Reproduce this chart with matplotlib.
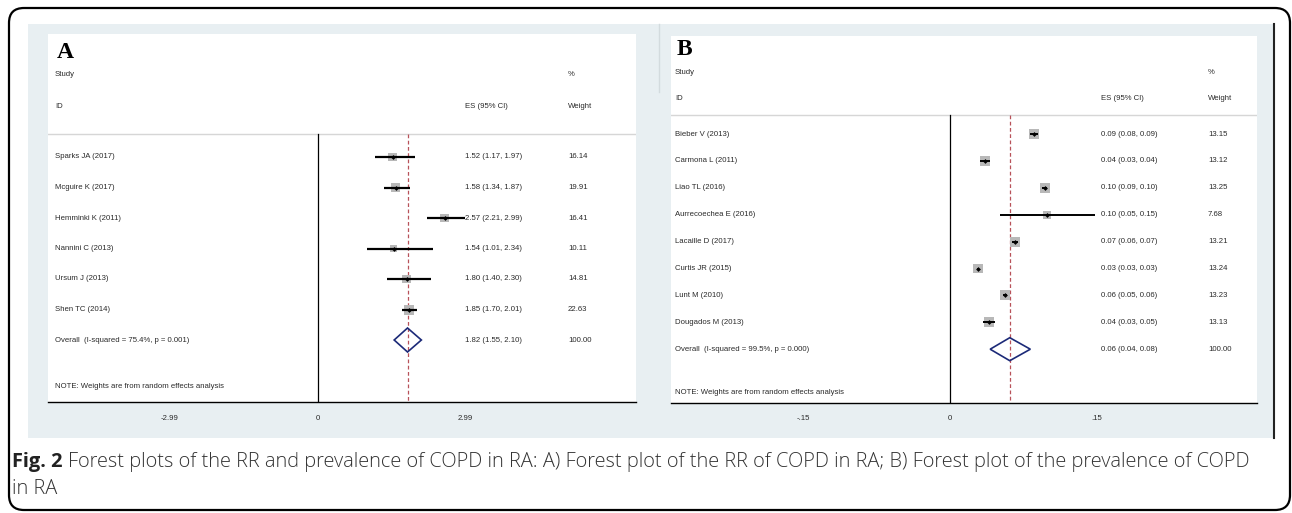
import matplotlib
matplotlib.use("Agg")
import matplotlib.pyplot as plt
from matplotlib.patches import Rectangle, FancyBboxPatch, Polygon
import numpy as np

W, H = 1292, 513

# ---- panel A: RR of COPD in RA ----
studies_a = ["Sparks JA (2017)", "Mcguire K (2017)", "Hemminki K (2011)",
             "Nannini C (2013)", "Ursum J (2013)", "Shen TC (2014)"]
es_a = [1.52, 1.58, 2.57, 1.54, 1.80, 1.85]
lo_a = [1.17, 1.34, 2.21, 1.01, 1.40, 1.70]
hi_a = [1.97, 1.87, 2.99, 2.34, 2.30, 2.01]
weight_a = [16.14, 19.91, 16.41, 10.11, 14.81, 22.63]
overall_a = [1.82, 1.55, 2.10]
overall_label_a = "Overall  (I-squared = 75.4%, p = 0.001)"
ticks_a = [-2.99, 0, 2.99]
tick_labels_a = ["-2.99", "0", "2.99"]

# ---- panel B: prevalence of COPD in RA ----
studies_b = ["Bieber V (2013)", "Carmona L (2011)", "Liao TL (2016)",
             "Aurrecoechea E (2016)", "Lacaille D (2017)", "Curtis JR (2015)",
             "Lunt M (2010)", "Dougados M (2013)"]
es_b = [0.086, 0.036, 0.097, 0.099, 0.066, 0.029, 0.056, 0.040]
lo_b = [0.082, 0.031, 0.094, 0.051, 0.063, 0.028, 0.054, 0.034]
hi_b = [0.090, 0.041, 0.099, 0.148, 0.069, 0.030, 0.058, 0.046]
weight_b = [13.15, 13.12, 13.25, 7.68, 13.21, 13.24, 13.23, 13.13]
overall_b = [0.061, 0.041, 0.082]
overall_label_b = "Overall  (I-squared = 99.5%, p = 0.000)"
ticks_b = [-0.15, 0, 0.15]
tick_labels_b = ["-.15", "0", ".15"]

caption_bold = "Fig. 2"
caption_rest = ("Forest plots of the RR and prevalence of COPD in RA: A) Forest plot of the RR of "
                "COPD in RA; B) Forest plot of the prevalence of COPD")
caption_line2 = "in RA"

GRAY_BG = "#e8eff2"
TXT = "#2a2a2a"
SANS = ["Liberation Sans", "DejaVu Sans"]
FS = 5.6

fig = plt.figure(figsize=(W / 100, H / 100), dpi=100)
bg = fig.add_axes([0, 0, 1, 1])
bg.set_xlim(0, W)
bg.set_ylim(H, 0)
bg.axis("off")

# outer rounded frame and the grey graph regions
bg.add_patch(FancyBboxPatch((9, 8), 1281, 502, boxstyle="round,pad=0,rounding_size=15",
                            fill=False, ec="black", lw=1.6))
bg.add_patch(Rectangle((28, 24), 1246, 414, color=GRAY_BG, lw=0))
bg.plot([659, 659], [24, 92], color="#d3dbde", lw=1)
bg.plot([1274, 1274], [24, 438], color="#222222", lw=1.5)


def panel(box, xlim, label, studies, es, lo, hi, wts, overall, overall_label,
          ticks, tick_labels, rows, sep_y, head_y, note_y, cols, half_h, ci_lw):
    x0, y0, x1, y1 = box
    bg.add_patch(Rectangle((x0, y0), x1 - x0, y1 - y0, color="white", lw=0))
    ax = fig.add_axes([x0 / W, 1 - y1 / H, (x1 - x0) / W, (y1 - y0) / H])
    ax.set_facecolor("none")
    ax.set_xlim(*xlim)
    ax.set_ylim(y1, y0)
    for s in ["top", "left", "right"]:
        ax.spines[s].set_visible(False)
    ax.spines["bottom"].set_linewidth(1.0)
    ax.set_yticks([])
    ax.set_xticks(ticks)
    ax.set_xticklabels(tick_labels, fontsize=FS, family=SANS, color=TXT)
    ax.tick_params(axis="x", length=0, pad=9)

    ax.axhline(sep_y, color="#d6d6d6", lw=1)
    ax.plot([0, 0], [sep_y, y1], color="black", lw=0.9)
    ax.plot([overall[0]] * 2, [sep_y, y1], color="#b8525a", lw=0.9, dashes=(3, 2))

    n = len(studies)
    ys = rows[:n]
    ax.hlines(ys, lo, hi, color="black", lw=ci_lw, zorder=3)
    side = 10 * np.sqrt(np.array(wts) / max(wts)) * 0.72
    ax.scatter(es, ys, marker="s", s=side ** 2, color="#b8b8b8", lw=0, zorder=2)
    ax.scatter(es, ys, marker="D", s=6, color="black", lw=0, zorder=4)

    yo = rows[n]
    e, l, h = overall
    ax.add_patch(Polygon([(l, yo), (e, yo - half_h), (h, yo), (e, yo + half_h)],
                         closed=True, fill=False, ec="#1c2a78", lw=1.2, zorder=4))

    cx_name, cx_es, cx_w = cols
    bg.text(cx_name + 2, head_y[0] - 17, label, fontsize=17, fontweight="bold",
            family=["Liberation Serif", "DejaVu Serif"], color="black", va="baseline")
    kw = dict(fontsize=FS, family=SANS, color=TXT, va="center")
    bg.text(cx_name, head_y[0], "Study", **kw)
    bg.text(cx_w, head_y[0], "%", **kw)
    bg.text(cx_name, head_y[1], "ID", **kw)
    bg.text(cx_es, head_y[1], "ES (95% CI)", **kw)
    bg.text(cx_w, head_y[1], "Weight", **kw)
    for i in range(n):
        bg.text(cx_name, rows[i], studies[i], **kw)
        bg.text(cx_es, rows[i], f"{es[i]:.2f} ({lo[i]:.2f}, {hi[i]:.2f})", **kw)
        bg.text(cx_w, rows[i], f"{wts[i]:.2f}", **kw)
    bg.text(cx_name, yo, overall_label, **kw)
    bg.text(cx_es, yo, f"{e:.2f} ({l:.2f}, {h:.2f})", **kw)
    bg.text(cx_w, yo, "100.00", **kw)
    bg.text(cx_name, note_y, "NOTE: Weights are from random effects analysis", **kw)


rows_a = 157 + 30.5 * np.arange(len(studies_a) + 1)
panel((48, 34, 636, 402), (-5.45, 6.44), "A", studies_a, es_a, lo_a, hi_a, weight_a,
      overall_a, overall_label_a, ticks_a, tick_labels_a, rows_a, 134, (75, 106), 386,
      (55, 465, 568), 12, 1.6)

rows_b = 134 + 26.9 * np.arange(len(studies_b) + 1)
panel((671, 36, 1257, 403), (-0.2847, 0.3133), "B", studies_b, es_b, lo_b, hi_b, weight_b,
      overall_b, overall_label_b, ticks_b, tick_labels_b, rows_b, 115, (72, 99), 393,
      (675, 1101, 1208), 11.5, 1.4)

# caption, sized so the first line runs to the right edge like the original
cap_font = ["Open Sans", "DejaVu Sans"]
r = fig.canvas.get_renderer()
cap_fs = 12.5
t1 = bg.text(12, 467, caption_bold, fontsize=cap_fs, fontweight="bold", family=cap_font,
             color="#222222", va="baseline")
t2 = bg.text(0, 467, caption_rest, fontsize=cap_fs, fontweight="light", family=cap_font,
             color="#333333", va="baseline")
for _ in range(3):
    b1 = t1.get_window_extent(r)
    t2.set_x(b1.x1 + 5)
    b2 = t2.get_window_extent(r)
    cap_fs *= (1245 - 12) / (b2.x1 - 12)
    t1.set_fontsize(cap_fs)
    t2.set_fontsize(cap_fs)
b1 = t1.get_window_extent(r)
t2.set_x(b1.x1 + 5)
bg.text(12, 494, caption_line2, fontsize=cap_fs, fontweight="light", family=cap_font,
        color="#333333", va="baseline")

fig.savefig("out.png", dpi=100)
